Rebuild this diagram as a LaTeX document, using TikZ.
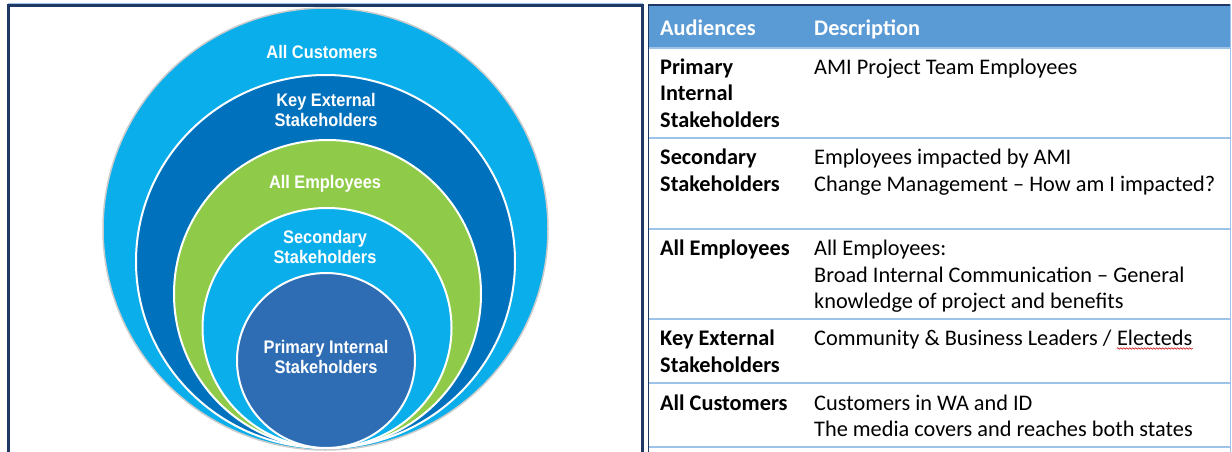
\documentclass[tikz,border=0pt]{standalone}
\usepackage{fontspec}
\setmainfont{Carlito}
\newfontfamily\ellfont[FakeStretch=0.9]{Liberation Sans}
\usetikzlibrary{decorations.pathmorphing}
\definecolor{cyanb}{HTML}{0AAEEA}
\definecolor{darkb}{HTML}{0071BC}
\definecolor{greenb}{HTML}{8FCB48}
\definecolor{primb}{HTML}{2E6DB4}
\definecolor{headb}{HTML}{5B9BD5}
\definecolor{sepb}{HTML}{9DC3E6}
\definecolor{navy}{HTML}{1F3864}
\tikzset{
  ring/.style={draw=white, line width=2pt},
  elab/.style={anchor=base, inner sep=0pt, text=white, font=\ellfont\bfseries\fontsize{18.2}{21}\selectfont},
  tcell/.style={anchor=base west, inner sep=0pt, text=black, font=\fontsize{22.3}{26}\selectfont},
  tbold/.style={tcell, font=\bfseries\fontsize{22.3}{26}\selectfont},
  thead/.style={anchor=base west, inner sep=0pt, text=white, font=\bfseries\fontsize{22.3}{26}\selectfont},
  sepline/.style={draw=sepb, line width=1.5pt}
}
\begin{document}
\begin{tikzpicture}[x=1pt,y=-1pt]
\useasboundingbox (0,0) rectangle (1232,451);
\fill[white] (0,0) rectangle (1232,451);
% left panel
\draw[sepb, line width=1pt] (8,3) -- (643,3);
\draw[navy, line width=2.5pt] (8.5,460) -- (8.5,5.5) -- (642.5,5.5) -- (642.5,460);
% ellipses
\draw[fill=cyanb, draw=black!20, line width=1.5pt] (325.5,229) ellipse [x radius=222.5pt, y radius=221pt];
\draw[ring, fill=darkb] (325.5,261.5) ellipse [x radius=189.5pt, y radius=186.5pt];
\draw[ring, fill=greenb] (327.5,294) ellipse [x radius=153.5pt, y radius=154pt];
\draw[ring, fill=cyanb] (327,328) ellipse [x radius=124.5pt, y radius=120pt];
\draw[ring, fill=primb] (326,360.5) ellipse [x radius=89pt, y radius=87.5pt];
% ellipse labels
\node[elab] (ac) at (322,58) {All Customers};
\node[elab] (ke1) at (326,106) {Key External};
\node[elab] (ke2) at (326,126.5) {Stakeholders};
\node[elab] (ae) at (325,188) {All Employees};
\node[elab] (ss1) at (325,243) {Secondary};
\node[elab] (ss2) at (325,263) {Stakeholders};
\node[elab] (pi1) at (326,353) {Primary Internal};
\node[elab] (pi2) at (326,373) {Stakeholders};
% table
\fill[headb] (648.5,5) rectangle (1230,48);
\draw[navy, line width=2pt] (648,4.5) -- (1231,4.5);
\draw[navy, line width=1.5pt] (648.5,4) -- (648.5,460);
\draw[sepb, line width=1.5pt] (1230.5,4) -- (1230.5,460);
\draw[sepline] (649,48) -- (1231,48);
\draw[sepline] (649,138) -- (1231,138);
\draw[sepline] (649,229) -- (1231,229);
\draw[sepline] (649,319) -- (1231,319);
\draw[sepline] (649,383) -- (1231,383);
\draw[sepline] (649,447) -- (1231,447);
\node[thead] (h1) at (660,35) {Audiences};
\node[thead] (h2) at (814,35) {Description};
% row 1
\node[tbold] (r1a) at (660,74) {Primary};
\node[tbold] (r1b) at (660,100.5) {Internal};
\node[tbold] (r1c) at (660,127) {Stakeholders};
\node[tcell] (d1a) at (814,74) {AMI Project Team Employees};
% row 2
\node[tbold] (r2a) at (660,164) {Secondary};
\node[tbold] (r2b) at (660,191) {Stakeholders};
\node[tcell] (d2a) at (814,164) {Employees impacted by AMI};
\node[tcell] (d2b) at (814,191) {Change Management – How am I impacted?};
% row 3
\node[tbold] (r3a) at (660,255) {All Employees};
\node[tcell] (d3a) at (814,255) {All Employees:};
\node[tcell] (d3b) at (814,282) {Broad Internal Communication – General};
\node[tcell] (d3c) at (814,308.5) {knowledge of project and benefits};
% row 4
\node[tbold] (r4a) at (660,345) {Key External};
\node[tbold] (r4b) at (660,372) {Stakeholders};
\node[tcell] (d4a) at (814,345) {Community \& Business Leaders /};
\node[tcell] (d4b) at ([xshift=5pt]d4a.base east) {Electeds};
\draw[red!80!black, line width=0.6pt, decorate, decoration={snake, amplitude=0.8pt, segment length=3pt}] ([yshift=-3.5pt]d4b.base west) -- ([yshift=-3.5pt]d4b.base east);
% row 5
\node[tbold] (r5a) at (660,410) {All Customers};
\node[tcell] (d5a) at (814,410) {Customers in WA and ID};
\node[tcell] (d5b) at (814,436.5) {The media covers and reaches both states};
\end{tikzpicture}
\end{document}
